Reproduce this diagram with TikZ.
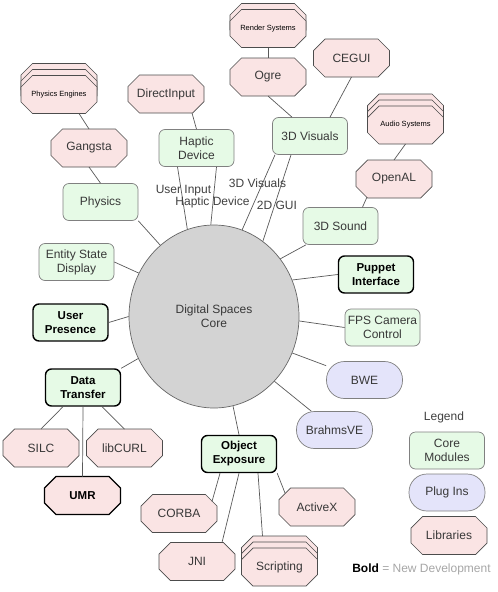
\documentclass[tikz,border=0pt]{standalone}
\usepackage{fontspec}
\setmainfont{Liberation Sans}
\usetikzlibrary{shapes.geometric,shadows}

\definecolor{modfill}{RGB}{230,250,230}
\definecolor{libfill}{RGB}{250,228,228}
\definecolor{plugfill}{RGB}{228,228,250}
\definecolor{corefill}{RGB}{211,211,211}

% box with cut corners for the libraries
\def\octcut{11.5pt}
\makeatletter
\pgfdeclareshape{octabox}{%
  \inheritsavedanchors[from=rectangle]%
  \inheritanchorborder[from=rectangle]%
  \inheritanchor[from=rectangle]{center}\inheritanchor[from=rectangle]{mid}\inheritanchor[from=rectangle]{base}%
  \inheritanchor[from=rectangle]{north}\inheritanchor[from=rectangle]{south}%
  \inheritanchor[from=rectangle]{east}\inheritanchor[from=rectangle]{west}%
  \inheritanchor[from=rectangle]{north east}\inheritanchor[from=rectangle]{north west}%
  \inheritanchor[from=rectangle]{south east}\inheritanchor[from=rectangle]{south west}%
  \backgroundpath{%
    \southwest \edef\oct@l{\the\pgf@x}\edef\oct@b{\the\pgf@y}%
    \northeast \edef\oct@r{\the\pgf@x}\edef\oct@t{\the\pgf@y}%
    \pgfmathsetlengthmacro\oct@li{\oct@l+\octcut}\pgfmathsetlengthmacro\oct@ri{\oct@r-\octcut}%
    \pgfmathsetlengthmacro\oct@bi{\oct@b+\octcut}\pgfmathsetlengthmacro\oct@ti{\oct@t-\octcut}%
    \pgfpathmoveto{\pgfqpoint{\oct@li}{\oct@b}}%
    \pgfpathlineto{\pgfqpoint{\oct@ri}{\oct@b}}\pgfpathlineto{\pgfqpoint{\oct@r}{\oct@bi}}%
    \pgfpathlineto{\pgfqpoint{\oct@r}{\oct@ti}}\pgfpathlineto{\pgfqpoint{\oct@ri}{\oct@t}}%
    \pgfpathlineto{\pgfqpoint{\oct@li}{\oct@t}}\pgfpathlineto{\pgfqpoint{\oct@l}{\oct@ti}}%
    \pgfpathlineto{\pgfqpoint{\oct@l}{\oct@bi}}\pgfpathclose}}
\makeatother

\begin{document}
\begin{tikzpicture}[x=1pt,y=-1pt,
    every node/.style={font=\fontsize{12}{14}\selectfont,text=black!78,align=center,inner sep=1pt},
    conn/.style={draw=black!65,line width=0.7pt},
    module/.style={draw=black!50,fill=modfill,line width=0.7pt,rounded corners=6pt,minimum width=75pt,minimum height=37pt},
    newmod/.style={module,draw=black,line width=1.4pt,text=black,font=\fontsize{11.5}{14}\selectfont\bfseries},
    plugin/.style={draw=black!50,fill=plugfill,line width=0.7pt,rounded corners=18pt,minimum width=76pt,minimum height=37pt},
    lib/.style={octabox,outer sep=0pt,draw=black!70,fill=libfill,line width=0.7pt,minimum width=76pt,minimum height=38pt},
    newlib/.style={lib,draw=black,line width=1.4pt,text=black,font=\fontsize{11.5}{14}\selectfont\bfseries},
    stack/.style={lib,double copy shadow={shadow xshift=0pt,shadow yshift=6pt}},
    small/.style={font=\fontsize{7.5}{9}\selectfont,text=black},
    lbl/.style={text=black!75}]
  \useasboundingbox (0,0) rectangle (498,592);

  % core and modules
  \node[ellipse,draw=black!60,fill=corefill,line width=0.7pt,minimum width=170pt,minimum height=183pt] (core) at (214,316.5) {Digital Spaces\\Core};
  \node[module] (physics) at (100.5,202) {Physics};
  \node[module] (entity) at (76.5,262) {Entity State\\Display};
  \node[newmod] (presence) at (70.5,322.5) {User\\Presence};
  \node[newmod] (transfer) at (83,387.5) {Data\\Transfer};
  \node[newmod] (exposure) at (239,454) {Object\\Exposure};
  \node[module] (fps) at (382.5,327.5) {FPS Camera\\Control};
  \node[newmod] (puppet) at (376,274.5) {Puppet\\Interface};
  \node[module] (sound) at (340.5,226) {3D Sound};
  \node[module] (visuals) at (310,136) {3D Visuals};
  \node[module] (haptic) at (196.5,148) {Haptic\\Device};

  % plug ins
  \node[plugin] (bwe) at (364.5,380) {BWE};
  \node[plugin] (brahms) at (334.5,430) {BrahmsVE};

  % libraries
  \node[stack,small] (phyeng) at (59,94.5) {Physics Engines};
  \node[lib] (gangsta) at (89,148) {Gangsta};
  \node[lib] (directinput) at (166,94) {DirectInput};
  \node[lib,copy shadow={shadow xshift=0pt,shadow yshift=6pt},small] (render) at (268,28.5) {Render Systems};
  \node[lib] (ogre) at (268,77) {Ogre};
  \node[lib] (cegui) at (351.5,58) {CEGUI};
  \node[stack,small] (audio) at (405.5,125) {Audio Systems};
  \node[lib] (openal) at (394,179) {OpenAL};
  \node[lib] (silc) at (41,448) {SILC};
  \node[lib] (libcurl) at (124.5,448) {libCURL};
  \node[newlib] (umr) at (82.5,495.5) {UMR};
  \node[lib] (corba) at (179,513.5) {CORBA};
  \node[lib] (jni) at (197,561.5) {JNI};
  \node[lib] (activex) at (317,507) {ActiveX};
  \node[stack] (scripting) at (279.5,567) {Scripting};

  % connectors
  \foreach \ang/\n in {127/physics.south east,150/entity.east,180/presence.east,209/transfer.north east,
      282/exposure.north,313/brahms,335/bwe,357/fps.west,25/puppet.west,41/sound}
    \draw[conn] (core.\ang) -- (\n);
  \draw[conn] (core.107) -- ([xshift=-19pt]haptic.south);
  \draw[conn] (core.92) -- ([xshift=20pt]haptic.south);
  \draw[conn] (core.72) -- ([xshift=-35pt]visuals.south);
  \draw[conn] (core.57) -- ([xshift=-19pt]visuals.south);
  \draw[conn] ([xshift=20pt]phyeng.south) -- (gangsta.north);
  \draw[conn] (gangsta.south) -- (physics.north);
  \draw[conn] ([xshift=26pt]directinput.south) -- (haptic.north);
  \draw[conn] (render.south) -- (ogre.north);
  \draw[conn] (ogre.south) -- ([xshift=-18pt]visuals.north);
  \draw[conn] (cegui.south) -- ([xshift=20pt]visuals.north);
  \draw[conn] (audio.south) -- (openal.north);
  \draw[conn] ([xshift=-27pt,yshift=1pt]openal.south) -- ([xshift=22pt]sound.north);
  \draw[conn] ([xshift=-20pt]transfer.south) -- (silc.north);
  \draw[conn] ([xshift=19pt]transfer.south) -- (libcurl.north);
  \draw[conn] (transfer.south) -- (umr.north);
  \draw[conn] ([xshift=-19pt]exposure.south) -- ([xshift=-5pt,yshift=-7pt]corba.north east);
  \draw[conn] (exposure.south) -- ([xshift=25pt]jni.north);
  \draw[conn] (exposure.south east) -- ([xshift=6pt,yshift=-5pt]activex.north west);
  \draw[conn] ([xshift=19pt]exposure.south) -- ([xshift=-17pt,yshift=12pt]scripting.north);

  % line labels
  \node[lbl] (uinput) at (183.5,191) {User Input};
  \node[lbl] (hdevice) at (212.5,202) {Haptic Device};
  \node[lbl] (vislbl) at (257.5,183) {3D Visuals};
  \node[lbl] (guilbl) at (277,205) {2D GUI};

  % legend
  \node[lbl] (legend) at (444,417) {Legend};
  \node[module] (lcore) at (447,450.5) {Core\\Modules};
  \node[plugin] (lplug) at (447,492.5) {Plug Ins};
  \node[lib] (llib) at (449,535.5) {Libraries};
  \node (note) at (421.5,569) {\textbf{\textcolor{black}{Bold}} \textcolor{black!35}{= New Development}};
\end{tikzpicture}
\end{document}
